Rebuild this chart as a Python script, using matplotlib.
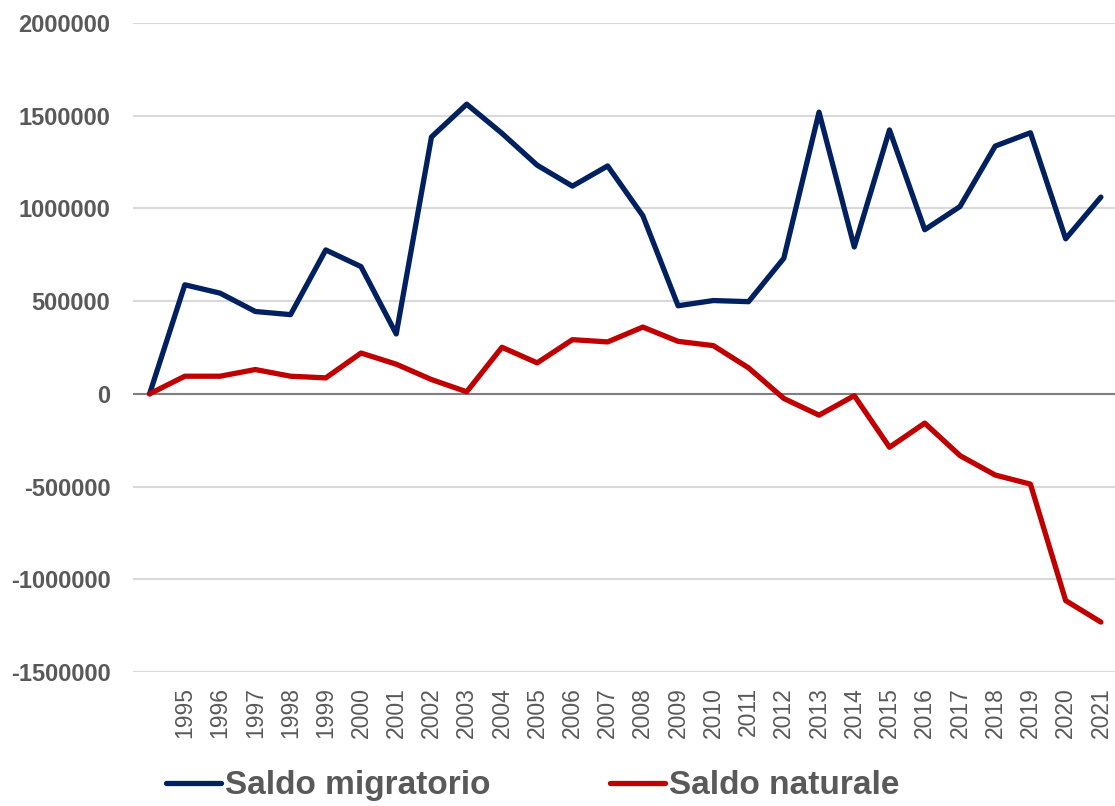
import matplotlib
matplotlib.use("Agg")
import matplotlib.pyplot as plt

years = [""] + [str(y) for y in range(1995, 2022)]

saldo_migratorio = [0, 588000, 543000, 444000, 427000, 776000, 686000, 323000,
                    1385000, 1562000, 1405000, 1233000, 1120000, 1229000,
                    960000, 475000, 503000, 497000, 731000, 1519000, 792000,
                    1423000, 885000, 1010000, 1336000, 1408000, 836000, 1061000]

saldo_naturale = [0, 95000, 95000, 131000, 95000, 86000, 220000, 160000,
                  77000, 11000, 251000, 167000, 292000, 280000, 360000,
                  283000, 260000, 140000, -25000, -115000, -10000, -288000,
                  -158000, -333000, -438000, -487000, -1115000, -1231000]

label_migr = "Saldo migratorio"
label_nat = "Saldo naturale"

plt.rcParams['font.family'] = ['Liberation Sans', 'DejaVu Sans']

fig = plt.figure(figsize=(11.15, 8.06), dpi=100)
ax = fig.add_axes([0.119, 0.1663, 0.881, 0.8052])

x = list(range(len(years)))
l1, = ax.plot(x, saldo_migratorio, color="#002060", lw=3.8, solid_joinstyle="round",
              solid_capstyle="round")
l2, = ax.plot(x, saldo_naturale, color="#C00000", lw=3.8, solid_joinstyle="round",
              solid_capstyle="round")

ax.set_ylim(-1500000, 2000000)
ax.set_xlim(-0.48, 27.4)
ax.set_yticks(range(-1500000, 2000001, 500000))
ax.set_yticklabels([str(v) for v in range(-1500000, 2000001, 500000)],
                   fontsize=17, fontweight="bold", color="#595959")
ax.set_xticks(x)
ax.set_xticklabels(years, rotation=90, fontsize=16.5, color="#595959")
ax.tick_params(axis="y", length=0, pad=16)
ax.tick_params(axis="x", length=0, pad=11)

ax.grid(axis="y", color="#d9d9d9", lw=1.5)
ax.set_axisbelow(True)
ax.axhline(0, color="#7f7f7f", lw=1.5, zorder=1.5)
for s in ax.spines.values():
    s.set_visible(False)

# legend text in the original is a condensed bold face; shrink to match its width
fig.legend([l1, l2], [label_migr, label_nat], loc="center",
           bbox_to_anchor=(0.4776, 0.025), ncol=2, frameon=False,
           handlelength=1.65, handletextpad=0.12, columnspacing=3.6,
           prop={"weight": "bold", "size": 24},
           labelcolor="#595959")

fig.savefig("out.png", dpi=100)
